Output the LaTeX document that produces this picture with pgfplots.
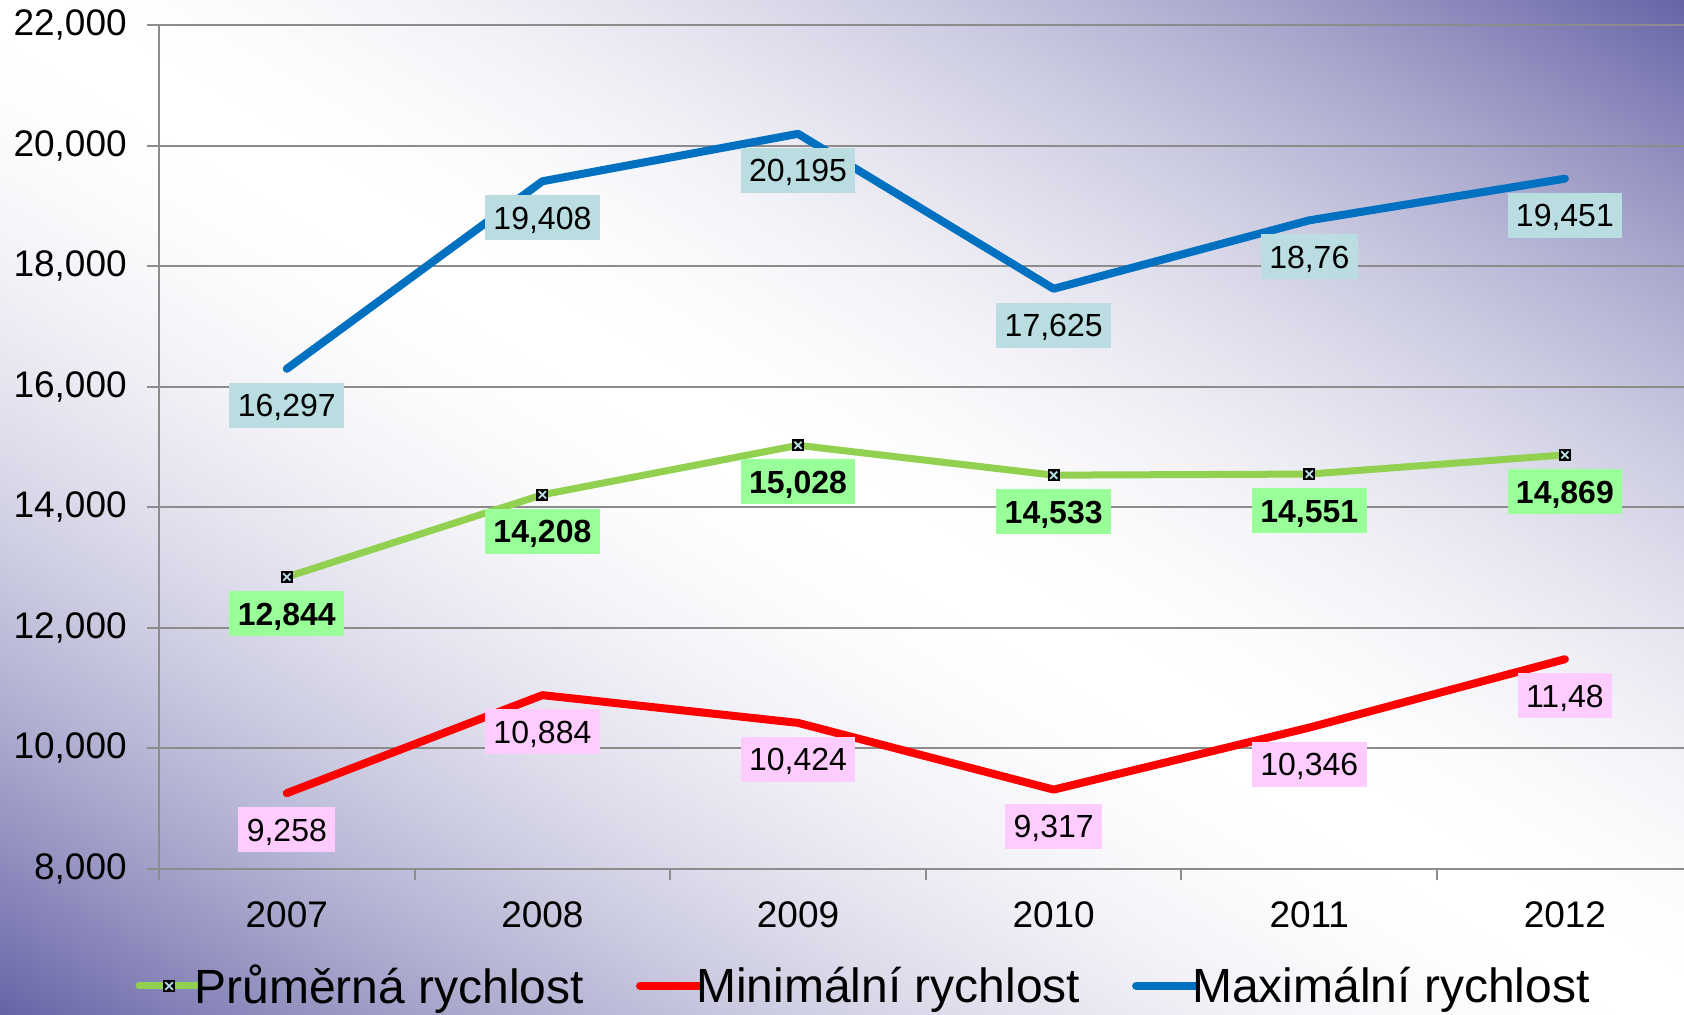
\documentclass[border=0pt]{standalone}
\usepackage{pgfplots}
\pgfplotsset{compat=1.18}
\usepackage{pgfplotstable}
\usepackage{fontspec}
\setmainfont{Liberation Sans}
\definecolor{cblue}{HTML}{0070C0}
\definecolor{cred}{HTML}{FF0000}
\definecolor{cgreen}{HTML}{92D050}
\definecolor{lblue}{HTML}{B9DDE0}
\definecolor{lgreen}{HTML}{99FF99}
\definecolor{lpink}{HTML}{FFCCFF}
\definecolor{gridc}{HTML}{8C8C8C}

\pgfdeclarefunctionalshading{bgshade}{\pgfpointorigin}{\pgfpoint{100bp}{100bp}}{}{%
  add 100 sub 50 div abs 1.8 exp
  dup 0.60 mul 1 exch sub exch
  dup 0.61 mul 1 exch sub exch
  0.35 mul 1 exch sub
}

\pgfdeclareplotmark{sqx}{%
  \pgfsetfillcolor{black}%
  \pgfpathrectangle{\pgfpoint{-\pgfplotmarksize}{-\pgfplotmarksize}}{\pgfpoint{2\pgfplotmarksize}{2\pgfplotmarksize}}%
  \pgfusepath{fill}%
  \pgfsetstrokecolor{lblue}\pgfsetlinewidth{0.9pt}%
  \pgfpathmoveto{\pgfpoint{-0.6\pgfplotmarksize}{-0.6\pgfplotmarksize}}%
  \pgfpathlineto{\pgfpoint{0.6\pgfplotmarksize}{0.6\pgfplotmarksize}}%
  \pgfpathmoveto{\pgfpoint{-0.6\pgfplotmarksize}{0.6\pgfplotmarksize}}%
  \pgfpathlineto{\pgfpoint{0.6\pgfplotmarksize}{-0.6\pgfplotmarksize}}%
  \pgfusepath{stroke}%
}

\pgfplotstableread{
x avg avglab min minlab max maxlab
0 12.844 12,844 9.258 9,258 16.297 16,297
1 14.208 14,208 10.884 10,884 19.408 19,408
2 15.028 15,028 10.424 10,424 20.195 20,195
3 14.533 14,533 9.317 9,317 17.625 17,625
4 14.551 14,551 10.346 10,346 18.76 18,76
5 14.869 14,869 11.48 11,48 19.451 19,451
}\data

\begin{document}
\begin{tikzpicture}
\useasboundingbox (0,0) rectangle (842pt,507pt);
\shade[shading=bgshade] (0,0) rectangle (842pt,507pt);
\begin{axis}[
  at={(79.5pt,72.5pt)}, anchor=south west,
  scale only axis, width=762.5pt, height=422pt,
  xmin=-0.5, xmax=5.466, ymin=8, ymax=22,
  clip=false,
  axis x line*=bottom, axis y line*=left,
  axis line style={gridc, line width=1pt},
  tick align=outside,
  major tick length=6pt, minor tick length=5.5pt,
  ytick={8,10,...,22},
  ymajorgrids, grid style={gridc, line width=1pt},
  y tick style={gridc, line width=1pt},
  yticklabel style={font=\fontsize{18.5}{22}\selectfont, xshift=-6.6pt},
  /pgf/number format/.cd, fixed, fixed zerofill, precision=3, use comma, assume math mode=true,
  /pgfplots/.cd,
  xtick={0,...,5}, xticklabels={2007,2008,2009,2010,2011,2012},
  major x tick style={draw=none},
  minor xtick={-0.5,0.5,...,4.5},
  minor x tick style={gridc, line width=1pt},
  xticklabel style={font=\fontsize{18.5}{22}\selectfont, yshift=-6.7pt},
  legend columns=3,
  legend style={at={(axis description cs:0.462,-0.1386)}, anchor=center, draw=none, fill=none,
    font=\fontsize{24}{28}\selectfont, inner sep=0pt, nodes={inner sep=1pt},
    /tikz/every even column/.append style={column sep=25pt},
    /tikz/every odd column/.append style={column sep=-5pt}},
  legend cell align=left,
  legend image code/.code={\draw[#1, line cap=round, mark repeat=2, mark phase=2] plot coordinates {(0pt,0pt) (15pt,0pt) (30pt,0pt)};},
  nodes near coords, point meta=explicit symbolic,
  nodes near coords align={center},
  every node near coord/.append style={anchor=center, yshift=-18.3pt, font=\fontsize{16}{19}\selectfont,
    inner xsep=4.2pt, inner ysep=5.5pt, text height=11.5pt, text depth=0pt, text=black},
]
\addplot[cgreen, line width=3.5pt, line join=round, mark=sqx, mark size=3pt,
  every node near coord/.append style={fill=lgreen, font=\fontsize{16}{19}\selectfont\bfseries}]
  table[x=x, y=avg, meta=avglab] {\data};
\addlegendentry{Průměrná rychlost}
\addplot[cred, line width=4pt, line join=round, line cap=round,
  every node near coord/.append style={fill=lpink}]
  table[x=x, y=min, meta=minlab] {\data};
\addlegendentry{Minimální rychlost}
\addplot[cblue, line width=4pt, line join=round, line cap=round,
  every node near coord/.append style={fill=lblue}]
  table[x=x, y=max, meta=maxlab] {\data};
\addlegendentry{Maximální rychlost}
\end{axis}
\end{tikzpicture}
\end{document}
